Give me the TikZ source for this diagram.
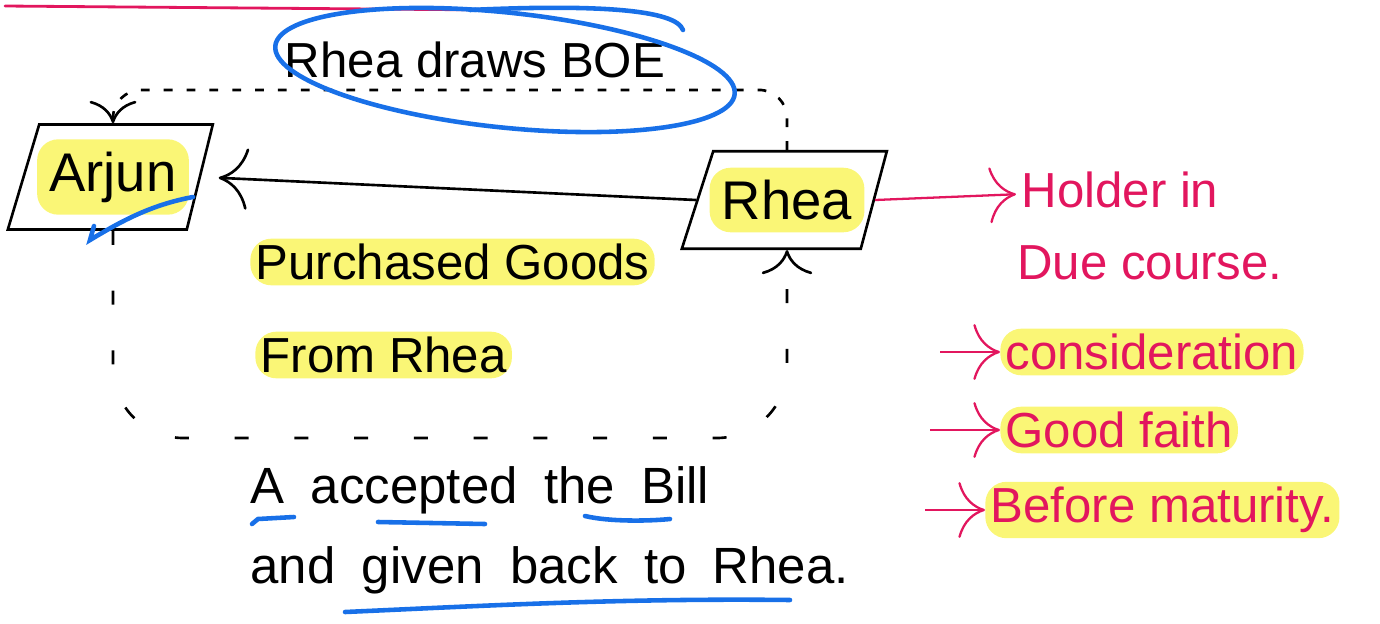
\documentclass[tikz,border=0pt]{standalone}
\usepackage{fontspec}
\setmainfont{Liberation Sans}
\usepackage{tikz}
\usetikzlibrary{shapes.geometric, arrows.meta}
\definecolor{hlyellow}{RGB}{250,246,118}
\definecolor{inkred}{RGB}{226,22,94}
\definecolor{penblue}{RGB}{24,112,232}
\newcommand\widewords{\spaceskip 15pt\relax}
\tikzstyle{party} = [trapezium, trapezium left angle=78, trapezium right angle=100, trapezium stretches=true, minimum width=4.1cm, minimum height=2.1cm, draw=black, line width=1.5pt]
\tikzstyle{hilite} = [fill=hlyellow, rounded corners=12pt, inner sep=5pt]
\tikzstyle{partyname} = [font=\fontsize{31}{36}\selectfont, inner sep=7pt]
\tikzstyle{blacktext} = [font=\fontsize{28}{32}\selectfont, inner sep=3pt]
\tikzstyle{spaced} = [font=\fontsize{29}{33}\selectfont\widewords, inner sep=3pt]
\tikzstyle{redtext} = [blacktext, text=inkred]
\tikzstyle{arrow} = [line width=1.5pt, -{Computer Modern Rightarrow[scale=3.4]}]
\tikzstyle{dotarrow} = [line width=1.5pt, -{Computer Modern Rightarrow[scale=2.6]}, dash pattern=on 5pt off 8pt]
\tikzstyle{dasharrow} = [line width=1.5pt, -{Computer Modern Rightarrow[scale=2.8]}, dash pattern=on 8pt off 26pt]
\tikzstyle{redarrow} = [arrow, line width=1.3pt, draw=inkred]
\tikzstyle{redline} = [line width=1.6pt, draw=inkred, line cap=round]
\tikzstyle{bluepen} = [line width=2.6pt, draw=penblue, line cap=round]

\begin{document}
\begin{tikzpicture}[x=0.02cm, y=-0.02cm, node distance=1.45cm]
\useasboundingbox (0,0) rectangle (1380,623);
\draw [redline] (5,6) -- (495,10);
% parties
\node (arjun) [party] at (113,177) {};
\node (arjunname) [hilite, partyname] at (arjun) {Arjun};
\node (rhea) [party, minimum height=1.95cm] at (787,200) {};
\node (rheaname) [hilite, partyname] at (rhea) {Rhea};
% goods sold
\draw [arrow, shorten >=10pt] (rhea.west) -- (arjun.east);
\node (goods) [hilite, blacktext, anchor=west] at (250,262) {Purchased Goods};
\node (from) [hilite, blacktext, anchor=west] at (255,355) {From Rhea};
% bill drawn
\draw [dotarrow, rounded corners=16pt] (rhea.north) -- ++(0,-60) -| (arjun.north);
\node (draws) [blacktext] at (475,60) {Rhea draws BOE};
\coordinate (ring) at (505,70);
\draw [bluepen, rotate around={-6:(ring)}] (ring) ellipse [x radius=4.62cm, y radius=1.15cm];
\draw [bluepen] (470,10) .. controls (600,4) and (676,10) .. (683,30);
% accepted and sent back
\draw [dasharrow, rounded corners=40pt] (arjun.south) |- (440,438) -| (rhea.south);
\node (accepted) [spaced, anchor=west] at (245,490) {A accepted the Bill};
\node (given) [spaced, anchor=west] at (245,570) {and given back to Rhea.};
% pen marks
\draw [bluepen] (193,197) .. controls (150,205) and (120,222) .. (90,240) -- (94,226);
\draw [bluepen] (294,517) -- (258,519) -- (252,524);
\draw [bluepen] (378,522) -- (485,524);
\draw [bluepen] (585,516) .. controls (610,522) and (650,521) .. (670,519);
\draw [bluepen] (345,612) .. controls (480,606) and (620,598) .. (790,600);
% holder in due course
\node (holder) [redtext] at (1120,190) {Holder in};
\node (due) [redtext, below of=holder, xshift=0.6cm] {Due course.};
\draw [redarrow] (rhea.east) -- (holder);
\node (consid) [hilite, redtext, anchor=west] at (1000,352) {consideration};
\node (faith) [hilite, redtext, anchor=west] at (1000,430) {Good faith};
\node (before) [hilite, redtext, anchor=west] at (985,510) {Before maturity.};
\coordinate (c1) at (940,352);
\coordinate (c2) at (930,430);
\coordinate (c3) at (925,510);
\draw [redarrow] (c1) -- (consid);
\draw [redarrow] (c2) -- (faith);
\draw [redarrow] (c3) -- (before);
\end{tikzpicture}
\end{document}
